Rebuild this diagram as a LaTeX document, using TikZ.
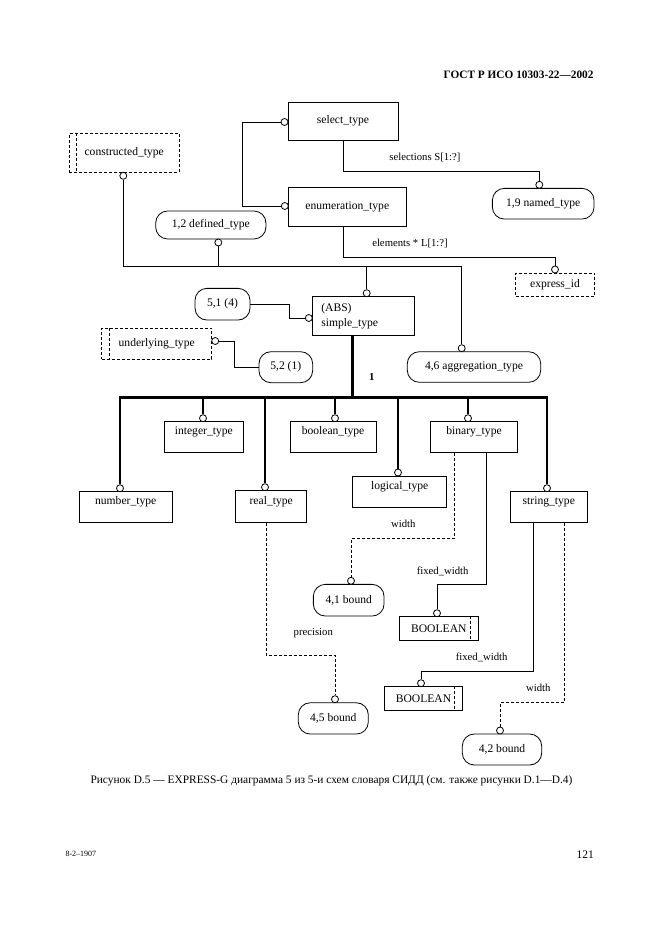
\documentclass[tikz,border=0pt]{standalone}
\usepackage{fontspec}
\setmainfont{Liberation Serif}
\begin{document}
\begin{tikzpicture}[x=1pt,y=-1pt,
  font=\fontsize{11.6}{15}\selectfont,
  ent/.style={draw,line width=0.8pt,inner sep=0pt},
  ref/.style={draw,line width=0.8pt,rounded corners=12pt,inner sep=0pt},
  typ/.style={draw,line width=0.7pt,dash pattern=on 3pt off 2pt,inner sep=0pt},
  ring/.style={draw,circle,line width=0.8pt,inner sep=0pt,minimum size=7pt,fill=white},
  lnk/.style={line width=0.8pt},
  opt/.style={line width=0.7pt,dash pattern=on 3pt off 2pt},
  bus/.style={line width=2.8pt},
  lab/.style={font=\fontsize{10.7}{12}\selectfont},
  hi/.style={text height=7pt,text depth=12pt}]
\fill[white] (0,0) rectangle (661,936);
\useasboundingbox (0,0) rectangle (661,936);
\node[anchor=east,font=\fontsize{11.3}{13}\selectfont\bfseries] (hdr) at (597,75) {ГОСТ Р ИСО 10303-22—2002};
\node[ent,minimum width=110pt,minimum height=38pt] (sel) at (343,121) {select\_type};
\node[ent,minimum width=118.7pt,minimum height=38.7pt] (enu) at (347.3,206.7) {enumeration\_type};
\node[ent,minimum width=102pt,minimum height=39pt,align=left,text width=84pt,inner xsep=9pt] (simp) at (363.3,316.2) {(ABS)\\simple\_type};
\node[ent,hi,minimum width=79pt,minimum height=31pt] (intg) at (203.8,437.2) {integer\_type};
\node[ent,hi,minimum width=86pt,minimum height=31pt] (bool) at (333,437.2) {boolean\_type};
\node[ent,hi,minimum width=86.6pt,minimum height=31pt] (bin) at (474,437.2) {binary\_type};
\node[ent,hi,minimum width=93.3pt,minimum height=30.6pt] (num) at (125.7,507) {number\_type};
\node[ent,hi,minimum width=71pt,minimum height=31.6pt] (real) at (271.2,506.5) {real\_type};
\node[ent,hi,minimum width=94pt,minimum height=31.7pt] (logi) at (399.7,491.8) {logical\_type};
\node[ent,hi,minimum width=77.7pt,minimum height=31pt] (str) at (548.8,507.2) {string\_type};
\node[ref,minimum width=110.3pt,minimum height=28pt] (def) at (210.8,225) {1,2 defined\_type};
\node[ref,minimum width=101.7pt,minimum height=30.7pt] (named) at (543.2,203.7) {1,9 named\_type};
\node[ref,minimum width=55pt,minimum height=31.7pt] (r51) at (222.5,304.2) {5,1 (4)};
\node[ref,minimum width=53.7pt,minimum height=31pt] (r52) at (285.8,367.2) {5,2 (1)};
\node[ref,minimum width=133.4pt,minimum height=30.6pt] (aggr) at (474,367) {4,6 aggregation\_type};
\node[ref,minimum width=70.7pt,minimum height=31.7pt] (b41) at (348.7,600.2) {4,1 bound};
\node[ref,minimum width=70pt,minimum height=31.3pt] (b45) at (333.3,718.4) {4,5 bound};
\node[ref,minimum width=79.4pt,minimum height=31pt] (b42) at (502,749.5) {4,2 bound};
\node[typ,minimum width=109.7pt,minimum height=39pt] (cons) at (124.2,152.8) {constructed\_type};
\node[typ,minimum width=110pt,minimum height=31pt] (und) at (156.7,343.8) {underlying\_type};
\node[typ,minimum width=78.6pt,minimum height=23.7pt] (eid) at (555,284.8) {express\_id};
\node[ent,minimum width=79pt,minimum height=23.3pt] (bo1) at (438.8,628.4) {BOOLEAN};
\node[ent,minimum width=78.4pt,minimum height=23.3pt] (bo2) at (423.5,698.4) {BOOLEAN};
\foreach \t in {cons,und}
  \draw[opt] ([xshift=7.5pt]\t.north west) -- ([xshift=7.5pt]\t.south west);
\foreach \t in {bo1,bo2}
  \draw[opt] ([xshift=-8.3pt]\t.north east) -- ([xshift=-8.3pt]\t.south east);
\coordinate (kSE) at (242,122);
\coordinate (kSN) at (539.3,171);
\coordinate (kEX) at (343.3,257.7);
\coordinate (kL) at (123.3,266);
\coordinate (kR) at (461.7,266);
\coordinate (k51) at (289.3,304.2);
\coordinate (kU) at (234.3,341);
\coordinate (kBL) at (120,397.3);
\coordinate (kBR) at (547,397.3);
\coordinate (kBT) at (352.7,397.3);
\coordinate (kR1) at (266,655);
\coordinate (kB1) at (454.3,538.3);
\coordinate (kB2) at (486,584.3);
\coordinate (kS1) at (533.3,671);
\coordinate (kS2) at (564.3,702.3);
\node[ring] (cS) at (284.5,122) {};
\node[ring] (cE) at (284.8,206) {};
\node[ring] (cN) at (539.3,184.8) {};
\node[ring] (cX) at (555,269.5) {};
\node[ring] (cC) at (123.3,175.8) {};
\node[ring] (cD) at (218.3,242.5) {};
\node[ring] (cSim) at (366.7,293.2) {};
\node[ring] (cAg) at (461.7,348.2) {};
\node[ring] (cSl) at (308.8,318) {};
\node[ring] (cU) at (215.2,341) {};
\node[ring] (cNum) at (120,488.2) {};
\node[ring] (cInt) at (203,418.2) {};
\node[ring] (cReal) at (265,487.2) {};
\node[ring] (cBool) at (335,418.2) {};
\node[ring] (cLog) at (398,472.5) {};
\node[ring] (cBin) at (468,418.2) {};
\node[ring] (cStr) at (547,488.2) {};
\node[ring] (c41) at (351,580.8) {};
\node[ring] (c45) at (335,699.2) {};
\node[ring] (cB1) at (437,613.2) {};
\node[ring] (cB2) at (421,683.2) {};
\node[ring] (c42) at (500,730.5) {};
\draw[lnk] (cS.west) -- (kSE) |- (cE.west);
\draw[lnk] (sel.south) |- (kSN) -- (cN.north);
\draw[lnk] (kEX |- enu.south) -- (kEX) -| (cX.north);
\draw[lnk] (cC.south) -- (kL) -- (kR) -- (cAg.north);
\draw[lnk] (cD.south) -- (cD.south |- kL);
\draw[lnk] (cSim.north) -- (cSim.north |- kL);
\draw[lnk] (r51.east) -- (k51) |- (cSl.west);
\draw[lnk] (cU.east) -- (kU) |- (r52.west);
\draw[bus] (kBT |- simp.south) -- (kBT);
\draw[bus] (cNum.north) -- (kBL) -- (kBR) -- (cStr.north);
\foreach \c in {cInt,cReal,cBool,cLog,cBin}
  \draw[bus] (\c.north |- kBL) -- (\c.north);
\draw[opt] (kR1 |- real.south) -- (kR1) -| (c45.north);
\draw[opt] (kB1 |- bin.south) -- (kB1) -| (c41.north);
\draw[lnk] (kB2 |- bin.south) -- (kB2) -| (cB1.north);
\draw[lnk] (kS1 |- str.south) -- (kS1) -| (cB2.north);
\draw[opt] (kS2 |- str.south) -- (kS2) -| (c42.north);
\node[lab] (lSel) at (425,158) {selections S[1:?]};
\node[lab] (lEl) at (410,244) {elements * L[1:?]};
\node[lab,font=\fontsize{10.7}{12}\selectfont\bfseries] (lOne) at (371.7,377.3) {1};
\node[lab] (lW1) at (403.3,524.3) {width};
\node[lab] (lF1) at (442.7,571) {fixed\_width};
\node[lab] (lPr) at (313.3,633.3) {precision};
\node[lab] (lF2) at (481.7,657.7) {fixed\_width};
\node[lab] (lW2) at (538.3,688.3) {width};
\node[font=\fontsize{11.4}{13}\selectfont] (cap) at (331.5,781) {Рисунок D.5 — EXPRESS-G диаграмма 5 из 5-и схем словаря СИДД (см. также рисунки D.1—D.4)};
\node[anchor=west,font=\fontsize{8}{9}\selectfont] (ftl) at (62,854.3) {8-2–1907};
\node[anchor=east,font=\fontsize{11.5}{13}\selectfont] (pg) at (597.5,854.3) {121};
\end{tikzpicture}
\end{document}
